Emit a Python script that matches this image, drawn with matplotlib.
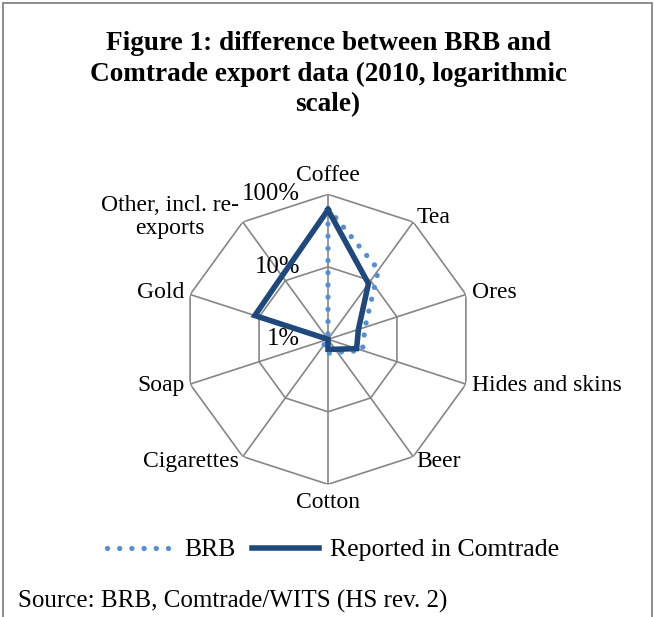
import numpy as np
import matplotlib.pyplot as plt
from matplotlib.patches import Rectangle
from matplotlib.lines import Line2D

plt.rcParams['font.family'] = ['Liberation Serif', 'DejaVu Serif']

categories = ['Coffee', 'Tea', 'Ores', 'Hides and skins', 'Beer', 'Cotton',
              'Cigarettes', 'Soap', 'Gold', 'Other, incl. re-\nexports']
# share of exports in %, values at or below 1% sit at the centre
brb = [64, 15.3, 3.45, 3.15, 1.66, 1.56, 1.33, 1.0, 1.0, 1.0]
comtrade = [61, 8.9, 2.76, 2.6, 1.48, 1.37, 1.0, 1.0, 11.5, 12]
ring_values = [1, 10, 100]
ring_labels = ['1%', '10%', '100%']

W, H = 655, 617
fig = plt.figure(figsize=(W / 100, H / 100), dpi=100)

# outer frame (open at the bottom)
fig.add_artist(Rectangle((2.5 / W, -0.05), (652 - 2.5) / W, 1.05 - 2.5 / H,
                         transform=fig.transFigure, fill=False,
                         edgecolor='#8c8c8c', lw=1.4))

fig.text(328 / W, 1 - 31.5 / H,
         'Figure 1: difference between BRB and\n'
         'Comtrade export data (2010, logarithmic\nscale)',
         ha='center', va='top', fontsize=19.6, fontweight='bold',
         linespacing=1.28)

cx, cy, R = 328, 339.3, 145
ax = fig.add_axes([(cx - R) / W, 1 - (cy + R) / H, 2 * R / W, 2 * R / H],
                  projection='polar')
ax.set_theta_zero_location('N')
ax.set_theta_direction(-1)
ax.set_rscale('log')
ax.set_rlim(1, 100)
ax.grid(False)
ax.set_xticks([])
ax.set_yticks([])
ax.spines['polar'].set_visible(False)
ax.patch.set_visible(False)

n = len(categories)
angles = np.arange(n) * 2 * np.pi / n
closed = np.append(angles, angles[0])

grid_col = '#868686'
for v in ring_values[1:]:
    ax.plot(closed, [v] * (n + 1), color=grid_col, lw=1.2, zorder=1)
for a in angles:
    ax.plot([a, a], [1, 100], color=grid_col, lw=1.2, zorder=1)

dots = (0, (0.01, 2.3))
ax.plot(closed, np.append(brb, brb[0]), color='#558ed5', lw=3.8,
        linestyle=dots, dash_capstyle='round', zorder=3)
ax.plot(closed, np.append(comtrade, comtrade[0]), color='#1f497d', lw=4.0,
        solid_joinstyle='miter', zorder=4)
ax.set_rlim(1, 100)

# category labels just outside the outer ring
for a, lab in zip(angles, categories):
    dx, dy = np.sin(a), np.cos(a)
    ha = 'left' if dx > 0.1 else ('right' if dx < -0.1 else 'center')
    va = 'bottom' if dy > 0.9 else ('top' if dy < -0.9 else 'center')
    off = 6 if abs(dy) < 0.9 else 8
    ax.annotate(lab, (a, 100), xytext=(dx * off * 0.72, dy * off * 0.72),
                textcoords='offset points', ha=ha, va=va, fontsize=17,
                multialignment='center', linespacing=1.1,
                annotation_clip=False)

for v, lab in zip(ring_values, ring_labels):
    ax.annotate(lab, (0, v), xytext=(-20, 0), textcoords='offset points',
                ha='right', va='center', fontsize=17.8, annotation_clip=False)

handles = [Line2D([], [], color='#558ed5', lw=3.8, linestyle=dots,
                  dash_capstyle='round'),
           Line2D([], [], color='#1f497d', lw=4.0)]
fig.legend(handles, ['BRB', 'Reported in Comtrade'], loc='center',
           bbox_to_anchor=(333 / W, 1 - 550 / H), ncol=2, frameon=False,
           fontsize=18.5, handlelength=2.6, handletextpad=0.4,
           columnspacing=0.65)

fig.text(18 / W, 1 - 601 / H, 'Source: BRB, Comtrade/WITS (HS rev. 2)',
         ha='left', va='center', fontsize=18)

fig.savefig('out.png', dpi=100)
